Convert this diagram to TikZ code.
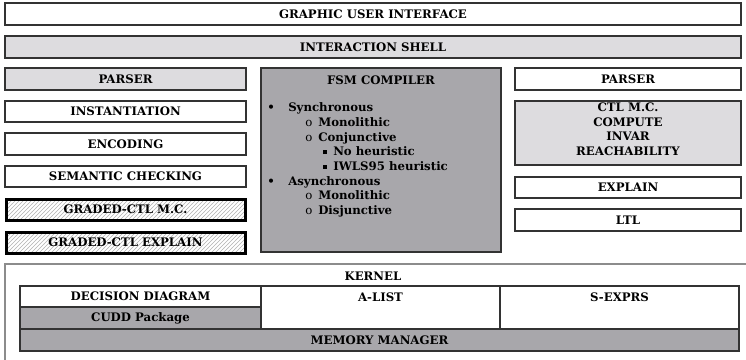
\documentclass[tikz,border=0pt]{standalone}
\usepackage{fontspec}
\setmainfont{DejaVu Serif}
\usetikzlibrary{positioning,patterns}
\definecolor{shellgray}{RGB}{221,220,223}
\definecolor{fsmgray}{RGB}{168,167,171}
\definecolor{kernelgray}{RGB}{140,140,140}
\newcommand{\fsmitem}[4]{\hspace*{#1}\makebox[#2][l]{#3}#4}
\newcommand{\sqmark}{\raisebox{1.2pt}{\rule{3pt}{3pt}}}

\begin{document}
\begin{tikzpicture}[x=0.75pt,y=-0.75pt,
        every node/.style={font=\fontsize{8.8}{11}\selectfont\bfseries},
        cellsize/.style 2 args={anchor=north west,minimum width={#1*0.75pt},minimum height={#2*0.75pt}},
        box/.style={draw=black!80,line width=0.9pt,inner sep=0pt,outer sep=0pt,fill=white},
        lightbox/.style={box,fill=shellgray},
        darkbox/.style={box,fill=fsmgray},
        gradedbox/.style={draw=black,line width=2.25pt,inner sep=0pt,outer sep=0pt,preaction={fill=white},pattern=north east lines,pattern color=black!30},
        txt/.style={inner sep=0pt}]
        \useasboundingbox (0,0) rectangle (746,360);

        \node[box, cellsize={736}{22}] (gui) at (5,3) {GRAPHIC USER INTERFACE};
        \node[lightbox, cellsize={736}{22}] (shell) at (5,36) {INTERACTION SHELL};

        % left column
        \node[lightbox, cellsize={241}{22}] (parserL) at (5,68) {PARSER};
        \node[box, cellsize={241}{21}] (inst) at (5,101) {INSTANTIATION};
        \node[box, cellsize={241}{22}] (enc) at (5,133) {ENCODING};
        \node[box, cellsize={241}{21}] (sem) at (5,166) {SEMANTIC CHECKING};
        \node[gradedbox, cellsize={239}{21}] (gmc) at (6,199) {GRADED-CTL M.C.};
        \node[gradedbox, cellsize={239}{21}] (gexp) at (6,232) {GRADED-CTL EXPLAIN};

        % fsm compiler
        \node[darkbox, cellsize={240}{184}] (fsm) at (261,68) {};
        \node[txt, below=6pt of fsm.north] (fsmtitle) {FSM COMPILER};
        \node[txt, align=left, below right=26pt and 4.5pt of fsm.north west] (fsmlist) {%
            \fsmitem{0pt}{15.75pt}{\textbullet}{Synchronous}\\
            \fsmitem{28.5pt}{9.75pt}{\mdseries o}{Monolithic}\\
            \fsmitem{28.5pt}{9.75pt}{\mdseries o}{Conjunctive}\\
            \fsmitem{42pt}{7.5pt}{\sqmark}{No heuristic}\\
            \fsmitem{42pt}{7.5pt}{\sqmark}{IWLS95 heuristic}\\
            \fsmitem{0pt}{15.75pt}{\textbullet}{Asynchronous}\\
            \fsmitem{28.5pt}{9.75pt}{\mdseries o}{Monolithic}\\
            \fsmitem{28.5pt}{9.75pt}{\mdseries o}{Disjunctive}};

        % right column
        \node[box, cellsize={226}{22}] (parserR) at (515,68) {PARSER};
        \node[lightbox, cellsize={226}{64}, align=center, text depth=6pt] (ctl) at (515,101) {CTL M.C.\\COMPUTE\\INVAR\\REACHABILITY};
        \node[box, cellsize={226}{21}] (expl) at (515,177) {EXPLAIN};
        \node[box, cellsize={226}{22}] (ltl) at (515,209) {LTL};

        % kernel
        \draw[kernelgray, line width=1.1pt] (5,364) |- (750,264);
        \node[txt] (kernel) at (373,276) {KERNEL};
        \node[box, cellsize={241}{21}] (dd) at (20,286) {DECISION DIAGRAM};
        \node[darkbox, cellsize={241}{22}] (cudd) at (20,307) {CUDD Package};
        \node[box, cellsize={239}{43}, text depth=15pt] (alist) at (261,286) {A-LIST};
        \node[box, cellsize={239}{43}, text depth=15pt] (sexprs) at (500,286) {S-EXPRS};
        \node[darkbox, cellsize={719}{22}] (mem) at (20,329) {MEMORY MANAGER};
\end{tikzpicture}
\end{document}
